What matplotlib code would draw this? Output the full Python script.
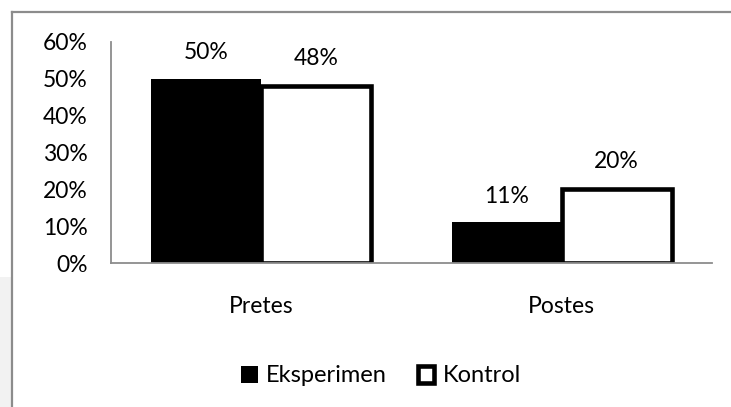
import matplotlib
matplotlib.use("Agg")
import matplotlib.pyplot as plt
from matplotlib.patches import Rectangle
from matplotlib.lines import Line2D
import numpy as np

categories = ["Pretes", "Postes"]
series_names = ["Eksperimen", "Kontrol"]
eksperimen = [0.50, 0.11]
kontrol = [0.48, 0.20]
labels_eks = ["50%", "11%"]
labels_kon = ["48%", "20%"]
yticks = [0, 0.1, 0.2, 0.3, 0.4, 0.5, 0.6]
ytick_labels = ["0%", "10%", "20%", "30%", "40%", "50%", "60%"]

FONT = "Lato"
FS = 16.5

W, H = 731, 407
fig = plt.figure(figsize=(W / 100, H / 100), dpi=100)

# outer frame decorations
fig.patches.append(Rectangle((0, 0), 11 / W, (407 - 277) / H, transform=fig.transFigure,
                             facecolor="#f2f2f2", edgecolor="none", zorder=0))
fig.lines.append(Line2D([11.5 / W, 11.5 / W], [0, 1 - 11.5 / H], transform=fig.transFigure,
                        color="#8c8c8c", lw=1.6))
fig.lines.append(Line2D([11.5 / W, 1], [1 - 11.5 / H, 1 - 11.5 / H], transform=fig.transFigure,
                        color="#8c8c8c", lw=1.6))

ax = fig.add_axes([111 / W, (H - 263) / H, (712 - 111) / W, (263 - 41.7) / H])
x = np.arange(len(categories))
bw = 0.366
ax.bar(x - bw / 2, eksperimen, width=bw, color="black", edgecolor="black", linewidth=0,
       label=series_names[0])
ax.bar(x + bw / 2, kontrol, width=bw, color="white", edgecolor="black", linewidth=3.3,
       label=series_names[1], zorder=3)

for xi, v, t in zip(x - bw / 2, eksperimen, labels_eks):
    ax.annotate(t, (xi, v), xytext=(0, 19), textcoords="offset points", ha="center",
                va="center", fontsize=FS, family=FONT)
for xi, v, t in zip(x + bw / 2, kontrol, labels_kon):
    ax.annotate(t, (xi, v), xytext=(0, 20), textcoords="offset points", ha="center",
                va="center", fontsize=FS, family=FONT)

ax.set_xlim(-0.5, 1.5)
ax.set_ylim(0, 0.6)
ax.set_yticks(yticks)
ax.set_yticklabels(ytick_labels, fontsize=FS, family=FONT)
ax.set_xticks(x)
ax.set_xticklabels(categories, fontsize=FS, family=FONT)
ax.tick_params(axis="y", length=0, pad=17)
ax.tick_params(axis="x", length=0, pad=24)
for s in ["top", "right"]:
    ax.spines[s].set_visible(False)
for s in ["left", "bottom"]:
    ax.spines[s].set_color("#8c8c8c")
    ax.spines[s].set_linewidth(1.3)
ax.spines["bottom"].set_zorder(5)

leg = fig.legend(loc="center", bbox_to_anchor=(381 / W, 1 - 376 / H), ncol=2, frameon=False,
                 prop={"family": FONT, "size": 17}, handlelength=0.7, handleheight=0.7,
                 handletextpad=0.35, columnspacing=1.3)

fig.savefig("out.png", dpi=100)
